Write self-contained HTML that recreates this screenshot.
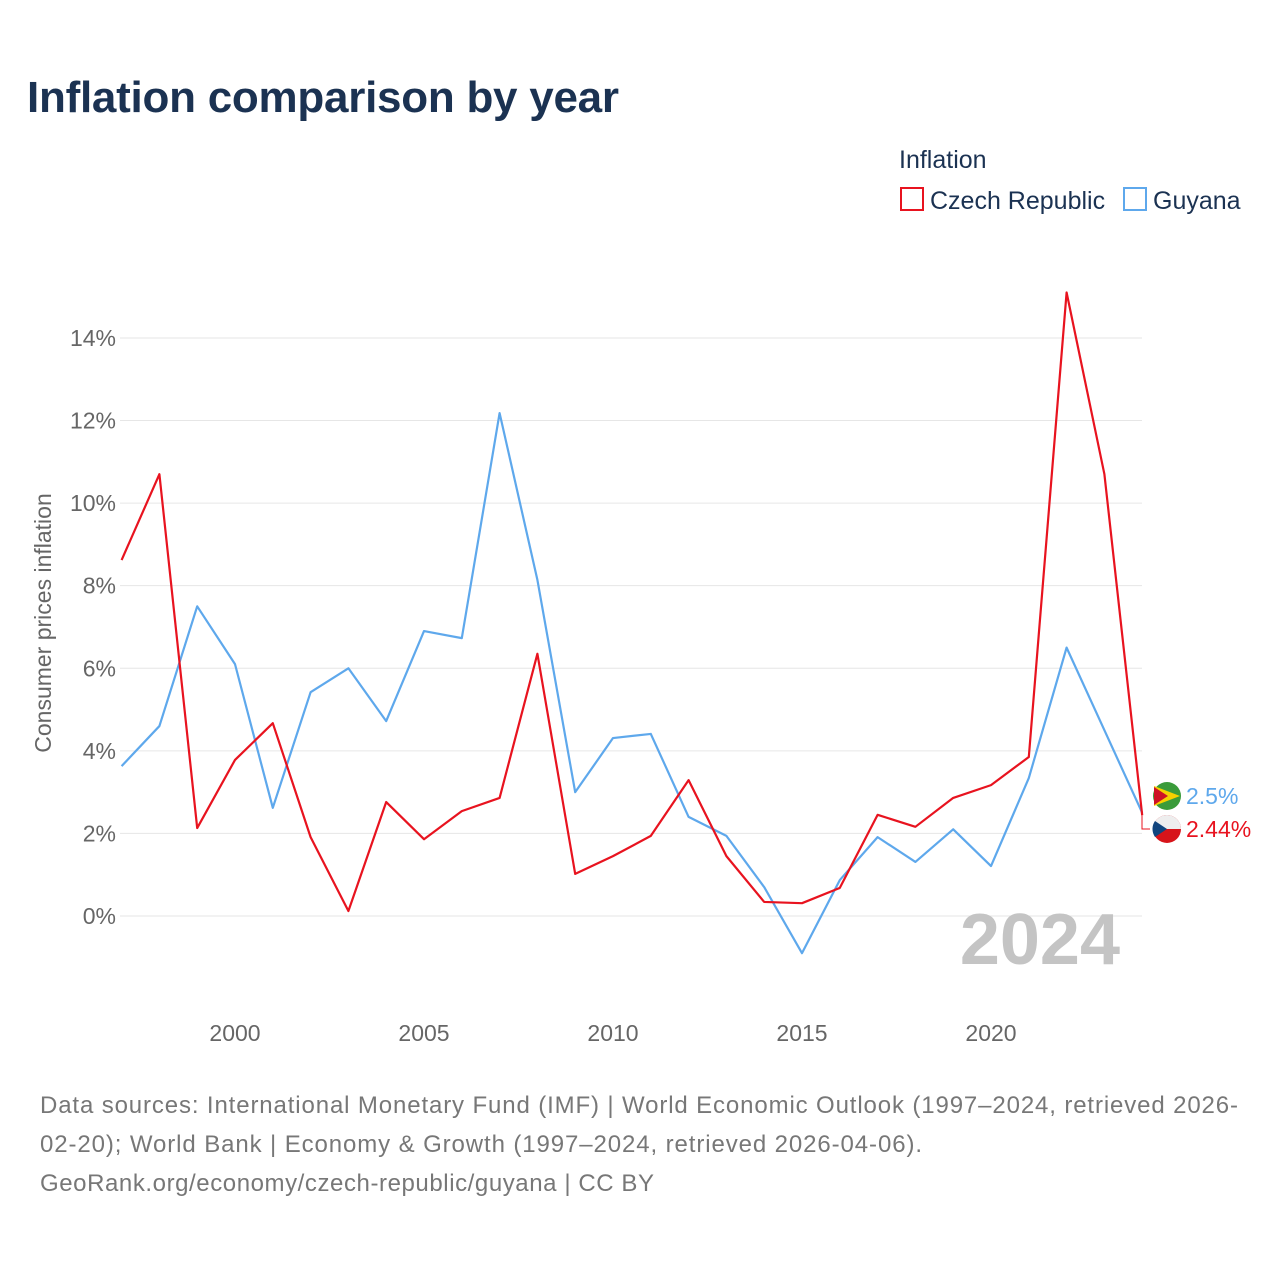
<!DOCTYPE html>
<html><head><meta charset="utf-8"><style>
body{margin:0;background:#fff;font-family:"Liberation Sans",sans-serif}
svg{display:block}
</style></head><body>
<svg id="c" width="1280" height="1280" xmlns="http://www.w3.org/2000/svg">
<text x="27" y="112" font-size="44" font-weight="bold" fill="#1b3252" textLength="592">Inflation comparison by year</text>
<text x="899" y="168" font-size="25" fill="#1b3252">Inflation</text>
<g><rect x="901" y="188" width="22" height="22" fill="none" stroke="#e8131f" stroke-width="2"/><text x="930" y="209" font-size="25" fill="#1b3252">Czech Republic</text></g>
<g><rect x="1124" y="188" width="22" height="22" fill="none" stroke="#5ea8ec" stroke-width="2"/><text x="1153" y="209" font-size="25" fill="#1b3252">Guyana</text></g>
<text transform="translate(51,623) rotate(-90)" text-anchor="middle" font-size="23" fill="#666">Consumer prices inflation</text>
<g id="grid"></g><g id="ticks"></g>
<text x="1120" y="964" text-anchor="end" font-size="72" font-weight="bold" fill="#c4c4c4">2024</text>
<g id="lines"></g>
<text x="40" y="1113" font-size="24" fill="#777" textLength="1198">Data sources: International Monetary Fund (IMF) | World Economic Outlook (1997–2024, retrieved 2026-</text>
<text x="40" y="1152" font-size="24" fill="#777" textLength="882">02-20); World Bank | Economy &amp; Growth (1997–2024, retrieved 2026-04-06).</text>
<text x="40" y="1191" font-size="24" fill="#777" textLength="614">GeoRank.org/economy/czech-republic/guyana | CC BY</text>
</svg>
<script>
const years=[1997,1998,1999,2000,2001,2002,2003,2004,2005,2006,2007,2008,2009,2010,2011,2012,2013,2014,2015,2016,2017,2018,2019,2020,2021,2022,2023,2024];
const czech=[8.62,10.7,2.13,3.78,4.67,1.91,0.12,2.76,1.86,2.54,2.86,6.35,1.02,1.45,1.94,3.29,1.45,0.34,0.31,0.68,2.45,2.16,2.86,3.17,3.85,15.1,10.7,2.44];
const guyana=[3.63,4.6,7.5,6.1,2.62,5.42,6.0,4.72,6.9,6.73,12.18,8.14,3.0,4.31,4.41,2.4,1.94,0.7,-0.9,0.87,1.91,1.31,2.1,1.21,3.34,6.5,4.5,2.5];
const yTicks=[0,2,4,6,8,10,12,14];
const xTicks=[2000,2005,2010,2015,2020];
const NS="http://www.w3.org/2000/svg";
const x=v=>235+(v-2000)*37.8;
const y=v=>916-v*41.29;
function mk(t,a,p){const e=document.createElementNS(NS,t);for(const k in a)e.setAttribute(k,a[k]);p.appendChild(e);return e;}
const grid=document.getElementById('grid'),ticks=document.getElementById('ticks'),lines=document.getElementById('lines');
yTicks.forEach(v=>{
 const l=mk('line',{x1:120,x2:1142,y1:y(v),y2:y(v),stroke:'#e6e6e6','stroke-width':1},grid);
 
 
 const t=mk('text',{x:116,y:y(v)+8,'text-anchor':'end','font-size':23,fill:'#666'},ticks);
 t.textContent=v+'%';
 
 
});
xTicks.forEach(v=>{
 const t=mk('text',{x:x(v),y:1041,'text-anchor':'middle','font-size':23,fill:'#666'},ticks);
 t.textContent=v;
 
 
});
function series(vals,col,name){
 const p=mk('polyline',{points:vals.map((v,i)=>x(years[i])+','+y(v)).join(' '),fill:'none',stroke:col,'stroke-width':2.2,'stroke-linejoin':'round'},lines);
 
 
}
series(guyana,'#5ea8ec','guyana');
series(czech,'#e8131f','czech');
const lastG=guyana[guyana.length-1],lastC=czech[czech.length-1];
const gy=796,cy=829;
const ln=mk('polyline',{points:`1142,${y(lastC)} 1142,829 1150,829`,fill:'none',stroke:'#e8131f','stroke-width':1},lines);


const fg=mk('circle',{cx:1167,cy:gy,r:14,fill:'#3a9b3a'},lines);


const fgt=mk('path',{d:`M1154 ${gy-10} L1180 ${gy} L1154 ${gy+10} Z`,fill:'#f5d000'},lines);


const fgr=mk('path',{d:`M1154 ${gy-9} L1168 ${gy} L1154 ${gy+9} Z`,fill:'#ce1126'},lines);


const fc=mk('circle',{cx:1167,cy:cy,r:14,fill:'#d7141a'},lines);


const fcw=mk('path',{d:`M1153 ${cy} A14 14 0 0 1 1181 ${cy} Z`,fill:'#eee'},lines);


const fcb=mk('path',{d:`M1155 ${cy-8} L1167 ${cy} L1155 ${cy+8} A14 14 0 0 1 1155 ${cy-8} Z`,fill:'#11457e'},lines);


const lg=mk('text',{x:1186,y:gy+8,'font-size':23,fill:'#5ea8ec'},lines);
lg.textContent=lastG+'%';


const lc=mk('text',{x:1186,y:cy+8,'font-size':23,fill:'#e8131f'},lines);
lc.textContent=lastC+'%';


</script>
</body></html>
